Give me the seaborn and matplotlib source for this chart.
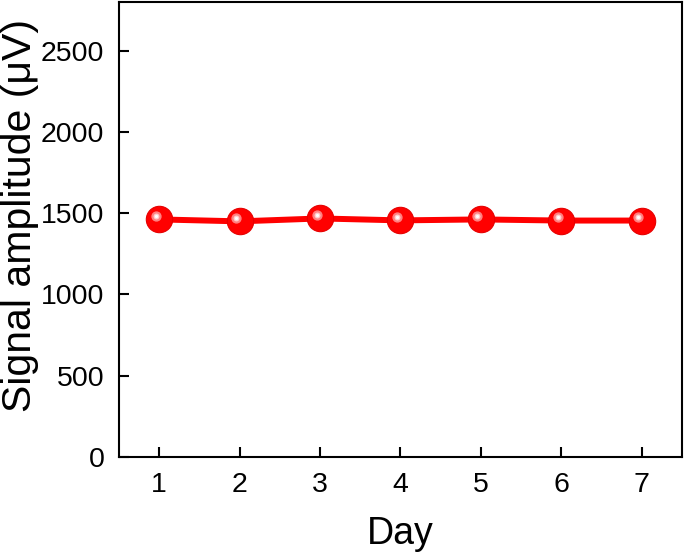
import pandas as pd
import matplotlib
matplotlib.use('Agg')
import matplotlib.pyplot as plt
import matplotlib.transforms as mtransforms
import seaborn as sns

# veriler
days = [1, 2, 3, 4, 5, 6, 7]
amplitude = [1462, 1450, 1468, 1456, 1462, 1455, 1455]

df = pd.DataFrame({'Day': days, 'Amp': amplitude})

sns.set_style('ticks')
plt.rcParams['font.family'] = ['Liberation Sans', 'DejaVu Sans']
plt.rcParams['text.color'] = 'black'
plt.rcParams['axes.labelcolor'] = 'black'
plt.rcParams['xtick.color'] = 'black'
plt.rcParams['ytick.color'] = 'black'

fig = plt.figure(figsize=(6.85, 5.55), dpi=100)
ax = fig.add_axes([0.1737, 0.1766, 0.8219, 0.8198])

sns.lineplot(data=df, x='Day', y='Amp', ax=ax, color='#ff0000', linewidth=4.3,
             marker='o', markersize=19, markeredgecolor='#e60000',
             markeredgewidth=0.8, zorder=3)

# küre görünümü için parlak nokta
off = mtransforms.offset_copy(ax.transData, fig=fig, x=-2.5, y=2.5, units='points')
ax.scatter(df['Day'], df['Amp'], s=55, color='#ff8080', transform=off, zorder=4, linewidths=0)
ax.scatter(df['Day'], df['Amp'], s=18, color='#ffd0d0', transform=off, zorder=5, linewidths=0)
ax.scatter(df['Day'], df['Amp'], s=5, color='white', transform=off, zorder=6, linewidths=0)

ax.set_xlim(0.5, 7.5)
ax.set_ylim(0, 2800)
ax.set_xticks(days)
ax.set_yticks([0, 500, 1000, 1500, 2000, 2500])
ax.tick_params(direction='in', length=7, width=1.5, labelsize=20.5, pad=10.5)
ax.tick_params(axis='x', pad=11)
for s in ax.spines.values():
    s.set_linewidth(1.5)
    s.set_color('black')

ax.set_xlabel('Day', fontsize=27, labelpad=13)
ax.set_ylabel('Signal amplitude (μV)', fontsize=29.5)
ax.yaxis.set_label_coords(-0.142, 0.53)

fig.savefig('out.png', dpi=100)
